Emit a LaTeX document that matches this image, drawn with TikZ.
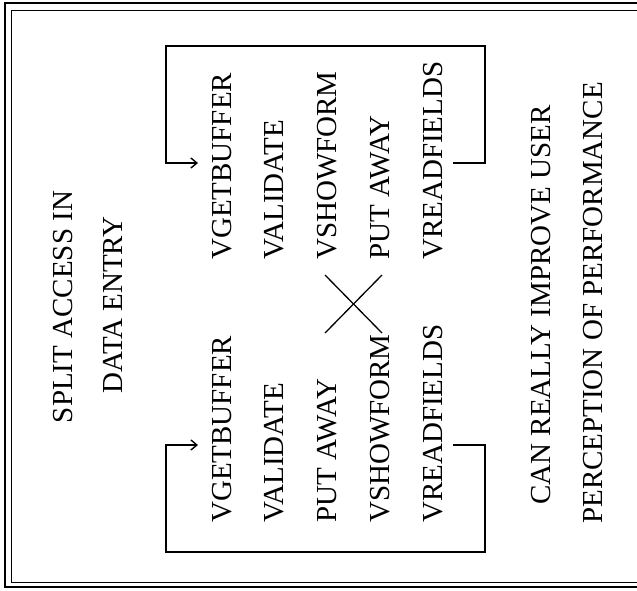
\documentclass[tikz,border=0pt]{standalone}
\usepackage{fontspec}
\setmainfont{Liberation Serif}
\usetikzlibrary{arrows.meta}
\begin{document}
\begin{tikzpicture}[x=1pt,y=-1pt,
  label/.style={rotate=90,inner sep=0pt,font=\fontsize{29}{30}\selectfont},
  loopline/.style={line width=1.6pt,line join=miter},
  looparrow/.style={loopline,-{Straight Barb[length=6pt,width=10pt,line width=1.4pt]}},
  crossline/.style={line width=1.3pt}]
\useasboundingbox (0,0) rectangle (637,590);
\begin{scope}
\clip (0,0) rectangle (637,590);
% double frame, open past the right edge
\draw[line width=1.6pt] (5,3) rectangle (660,587);
\draw[line width=0.8pt] (11,10) rectangle (660,582);
\end{scope}

% title
\node[label] (t1) at (63,307) {SPLIT ACCESS IN};
\node[label] (t2) at (113,305) {DATA ENTRY};

% upper sequence
\node[label,anchor=west] (a1) at (222,260) {VGETBUFFER};
\node[label,anchor=west] (a2) at (274,260) {VALIDATE};
\node[label,anchor=west] (a3) at (327,260) {VSHOWFORM};
\node[label,anchor=west] (a4) at (380,260) {PUT AWAY};
\node[label,anchor=west] (a5) at (433,260) {VREADFIELDS};

% lower sequence
\node[label,anchor=west] (b1) at (222,523) {VGETBUFFER};
\node[label,anchor=west] (b2) at (274,523) {VALIDATE};
\node[label,anchor=west] (b3) at (327,523) {PUT AWAY};
\node[label,anchor=west] (b4) at (380,523) {VSHOWFORM};
\node[label,anchor=west] (b5) at (433,523) {VREADFIELDS};

% swap marker
\coordinate (x1) at (325,275);
\coordinate (x2) at (382,333);
\coordinate (x3) at (382,275);
\coordinate (x4) at (325,333);
\draw[crossline] (x1) -- (x2);
\draw[crossline] (x3) -- (x4);

% upper loop
\coordinate (ua) at (453,163);
\coordinate (ub) at (485,163);
\coordinate (uc) at (485,46);
\coordinate (ud) at (166,46);
\coordinate (ue) at (166,163);
\coordinate (uf) at (198,163);
\draw[looparrow] (ua) -- (ub) -- (uc) -- (ud) -- (ue) -- (uf);

% lower loop
\coordinate (la) at (453,445);
\coordinate (lb) at (485,445);
\coordinate (lc) at (485,552);
\coordinate (ld) at (166,552);
\coordinate (le) at (166,445);
\coordinate (lf) at (198,445);
\draw[looparrow] (la) -- (lb) -- (lc) -- (ld) -- (le) -- (lf);

% conclusion
\node[label] (c1) at (541,305) {CAN REALLY IMPROVE USER};
\node[label] (c2) at (593,303) {PERCEPTION OF PERFORMANCE};
\end{tikzpicture}
\end{document}
